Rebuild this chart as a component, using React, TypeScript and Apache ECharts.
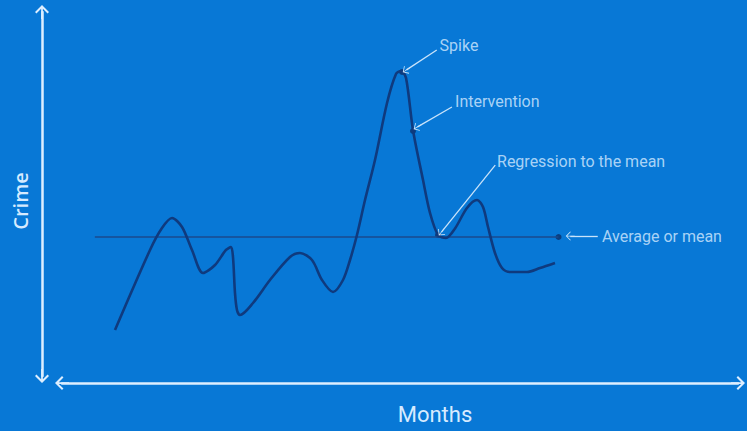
import React, { useEffect, useRef } from "react";
import * as echarts from "echarts";

// Months (abstract units) and crime level (abstract units)
const monthX = [8.43, 13.52, 15.26, 16.72, 18.17, 19.62, 21.22, 22.97, 24.56, 25.29, 25.58, 25.87, 26.16, 26.6, 28.49, 30.96, 33.87, 35.32, 37.06, 38.52, 40.12, 41.57, 42.59, 43.6, 44.77, 46.22, 47.97, 49.27, 50.0, 50.73, 51.74, 53.2, 54.22, 55.38, 56.54, 57.85, 59.59, 61.05, 61.92, 62.65, 63.66, 64.68, 65.84, 68.31, 70.2, 72.38];
const crimeY = [14.13, 35.47, 41.33, 44.0, 41.6, 35.47, 29.33, 31.47, 35.47, 36.27, 33.6, 24.0, 19.47, 18.13, 21.33, 27.47, 33.6, 34.67, 32.8, 27.47, 24.27, 27.47, 32.8, 39.47, 48.8, 59.47, 74.67, 82.4, 83.2, 81.33, 67.47, 54.13, 45.33, 39.47, 38.67, 41.2, 46.67, 48.8, 46.93, 41.6, 34.67, 30.67, 29.6, 29.6, 30.67, 32.0];

const meanValue = 38.93;
const meanRange = [5.5, 72.9];

const keyPointNames = ["Spike", "Intervention", "Regression to the mean"];
const keyPointX = [50.15, 51.74, 55.38];
const keyPointY = [82.93, 67.2, 39.47];

const labelTexts = ["Spike", "Intervention", "Regression to the mean", "Average or mean"];
const labelX = [55.6, 57.85, 63.95, 79.2];
const labelY = [90.0, 75.2, 59.2, 39.2];

// arrow head (at the point) and tail (near the text)
const arrowHeadX = [50.8, 52.4, 55.9, 74.6];
const arrowHeadY = [83.5, 68.3, 40.3, 39.2];
const arrowTailX = [55.2, 57.4, 63.7, 78.6];
const arrowTailY = [88.8, 73.6, 58.1, 39.2];

const CHEVRON = "path://M12,0 L24,12 L21.5,14.5 L13.5,6.5 L13.5,24 L10.5,24 L10.5,6.5 L2.5,14.5 L0,12 Z";
const THIN_CHEVRON = "path://M12,0 L24,12 L22.5,13.5 L13,4 L13,24 L11,24 L11,4 L1.5,13.5 L0,12 Z";

export default function App() {
  const ref = useRef<HTMLDivElement>(null);
  useEffect(() => {
    if (!ref.current) return;
    const chart = echarts.init(ref.current, undefined, { renderer: "svg" });
    const axisColor = "#DDEEFF";
    const textColor = "#D6EBFF";
    const lineColor = "#0F3A7E";
    const font = "Roboto, Open Sans, sans-serif";
    const curve = monthX.map((x, i) => [x, crimeY[i]]);
    const keyPts = keyPointX.map((x, i) => [x, keyPointY[i], keyPointNames[i]]);
    const labels = labelX.map((x, i) => [x, labelY[i], labelTexts[i]]);
    const arrows = arrowHeadX.map((x, i) => [
      { coord: [x, arrowHeadY[i]] },
      { coord: [arrowTailX[i], arrowTailY[i]] },
    ]);
    const arrowLine = {
      show: true,
      onZero: false,
      symbol: [CHEVRON, CHEVRON],
      symbolSize: [14, 14],
      lineStyle: { color: axisColor, width: 2.5 },
    };
    const hidden = { type: "value", min: 0, max: 100, show: false };
    chart.setOption({
      animation: false,
      backgroundColor: "#0878D6",
      grid: [
        { left: 62, right: 9, top: 12, bottom: 48, outerBoundsMode: "none", containLabel: false },
        { left: 57, right: 2, top: 8, bottom: 48, outerBoundsMode: "none", containLabel: false },
        { left: 42, right: 9, top: 12, bottom: 55, outerBoundsMode: "none", containLabel: false },
      ],
      xAxis: [
        {
          gridIndex: 0,
          type: "value",
          min: 0,
          max: 100,
          axisLine: arrowLine,
          axisTick: { show: false },
          axisLabel: { show: false },
          splitLine: { show: false },
          name: "Months",
          nameLocation: "middle",
          nameGap: 20,
          nameTextStyle: {
            color: textColor,
            fontSize: 22,
            fontFamily: font,
            padding: [0, 0, 0, 70],
          },
        },
        { ...hidden, gridIndex: 1 },
        { ...hidden, gridIndex: 2 },
      ],
      yAxis: [
        { ...hidden, gridIndex: 0 },
        { ...hidden, gridIndex: 1 },
        {
          gridIndex: 2,
          type: "value",
          min: 0,
          max: 100,
          axisLine: arrowLine,
          axisTick: { show: false },
          axisLabel: { show: false },
          splitLine: { show: false },
          name: "Crime",
          nameLocation: "middle",
          nameGap: 12,
          nameRotate: 90,
          nameTextStyle: {
            color: textColor,
            fontSize: 20,
            fontWeight: 600,
            fontFamily: "Open Sans, sans-serif",
            padding: [0, 14, 0, 0],
          },
        },
      ],
      series: [
        {
          type: "line",
          xAxisIndex: 1,
          yAxisIndex: 1,
          data: [
            [meanRange[0], meanValue],
            [meanRange[1], meanValue],
          ],
          symbol: "none",
          lineStyle: { color: "#1A4A8E", width: 1.6 },
          silent: true,
        },
        {
          type: "line",
          xAxisIndex: 1,
          yAxisIndex: 1,
          data: curve,
          smooth: 0.3,
          symbol: "none",
          lineStyle: { color: lineColor, width: 2.6 },
          silent: true,
        },
        {
          type: "scatter",
          xAxisIndex: 1,
          yAxisIndex: 1,
          data: [...keyPts, [meanRange[1], meanValue, "Average or mean"]],
          symbolSize: 6,
          itemStyle: { color: "#0B2F6A" },
          silent: true,
        },
        {
          type: "scatter",
          xAxisIndex: 1,
          yAxisIndex: 1,
          data: labels,
          symbolSize: 0.1,
          itemStyle: { color: "transparent" },
          silent: true,
          label: {
            show: true,
            position: "right",
            distance: 0,
            color: textColor,
            fontSize: 16,
            fontFamily: font,
            formatter: (p: any) => p.data[2],
          },
          markLine: {
            silent: true,
            symbol: [THIN_CHEVRON, "none"],
            symbolSize: 9,
            label: { show: false },
            lineStyle: { color: "#C9E3FA", width: 1.3, type: "solid" },
            data: arrows,
          },
        },
      ],
    });
    return () => chart.dispose();
  }, []);
  return (
    <div
      ref={ref}
      style={{ position: "fixed", left: 0, top: 0, width: 747, height: 431 }}
    />
  );
}
